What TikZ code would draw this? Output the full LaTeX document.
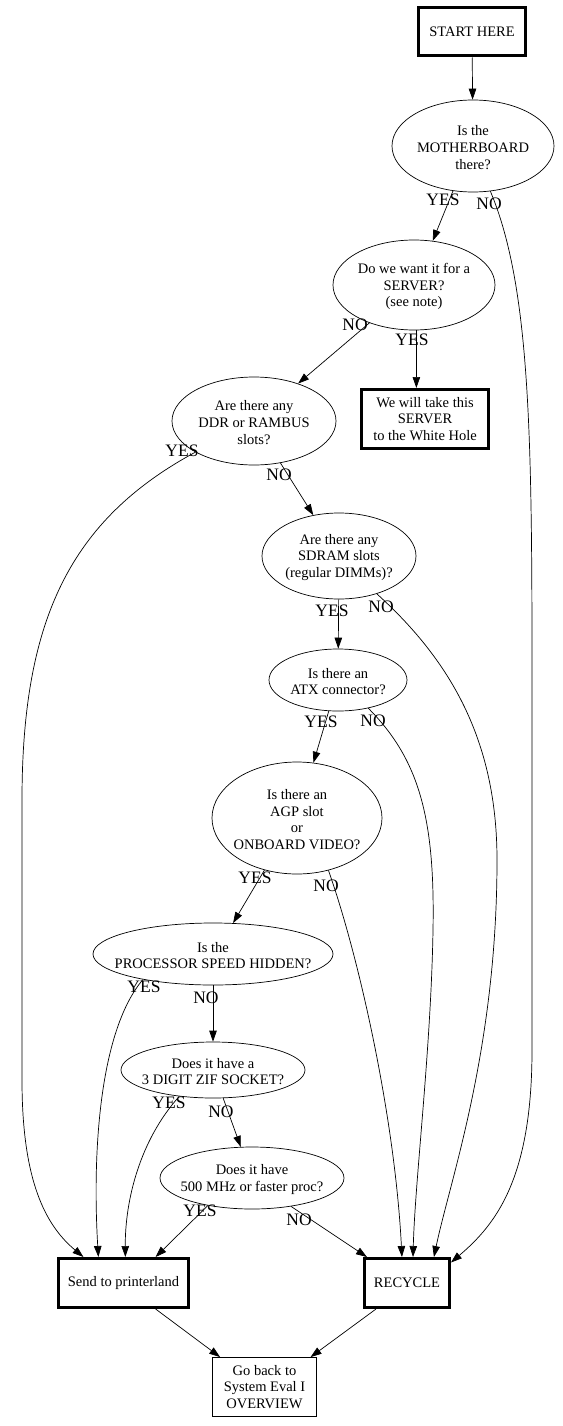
\documentclass[tikz,border=0pt]{standalone}
\usepackage{fontspec}
\setmainfont{Liberation Serif}
\usetikzlibrary{shapes.geometric,arrows.meta}
\begin{document}
\begin{tikzpicture}[x=1pt,y=-1pt,
  qt/.style={inner sep=0pt,align=center,font=\fontsize{14.5}{16.8}\selectfont,yshift=-1.5pt},
  q/.style={ellipse,draw,line width=0.7pt,inner sep=0pt,label={[qt]center:#1}},
  tb/.style={rectangle,draw,line width=3pt,inner sep=0pt,align=center,font=\fontsize{14.5}{16.8}\selectfont},
  thinbox/.style={rectangle,draw,line width=0.8pt,inner sep=0pt,align=center,font=\fontsize{14.5}{16.8}\selectfont},
  e/.style={draw,line width=0.7pt,-{Triangle[length=11pt,width=7.5pt]}},
  lbl/.style={font=\fontsize{17.5}{17.5}\selectfont,inner sep=0pt}]
\useasboundingbox (0,0) rectangle (562,1426);
% nodes
\node[tb,minimum width=107pt,minimum height=48pt] (start) at (472,32) {START HERE};
\node[q={Is the\\MOTHERBOARD\\there?},minimum width=162pt,minimum height=92pt] (mb) at (473,146) {};
\node[q={Do we want it for a\\SERVER?\\(see note)},minimum width=162pt,minimum height=90pt] (server) at (414,285) {};
\node[tb,minimum width=127pt,minimum height=59pt] (wh) at (425,419) {We will take this\\SERVER\\to the White Hole};
\node[q={Are there any\\DDR or RAMBUS\\slots?},minimum width=164pt,minimum height=88pt] (ddr) at (254,421) {};
\node[q={Are there any\\SDRAM slots\\(regular DIMMs)?},minimum width=154pt,minimum height=86pt] (sdram) at (339,556) {};
\node[q={Is there an\\ATX connector?},minimum width=138pt,minimum height=62pt] (atx) at (338,680) {};
\node[q={Is there an\\AGP slot\\or\\ONBOARD VIDEO?},minimum width=170pt,minimum height=112pt] (agp) at (297,818) {};
\node[q={Is the\\PROCESSOR SPEED HIDDEN?},minimum width=240pt,minimum height=62pt] (proc) at (213,954) {};
\node[q={Does it have a\\3 DIGIT ZIF SOCKET?},minimum width=184pt,minimum height=56pt] (zif) at (213,1070) {};
\node[q={Does it have\\500 MHz or faster proc?},minimum width=184pt,minimum height=62pt] (mhz) at (252,1178) {};
\node[tb,minimum width=130pt,minimum height=49pt] (pl) at (123.5,1283) {Send to printerland};
\node[tb,minimum width=85pt,minimum height=49pt] (rec) at (407,1283) {RECYCLE};
\node[thinbox,minimum width=104pt,minimum height=59pt] (back) at (264.5,1387) {Go back to\\System Eval I\\OVERVIEW};
% edges
\draw[e] (start) -- (mb);
\draw[e] (mb.-114) -- (server.67);
\draw[e] (mb.-69) .. controls (532,290) and (532,450) .. (532,700)
  -- (532,1050) .. controls (532,1180) and (495,1225) .. (rec.25);
\draw[e] (server) -- (ddr);
\draw[e] (server.-87) -- (server.-87 |- wh.north);
\draw[e] (ddr.-152) .. controls (70,520) and (22,620) .. (22,800)
  -- (22,1080) .. controls (22,1180) and (45,1225) .. (pl.147);
\draw[e] (ddr) -- (sdram);
\draw[e] (sdram) -- (atx);
\draw[e] (sdram.-45) .. controls (450,660) and (497,740) .. (497,860)
  .. controls (497,1050) and (450,1180) .. (rec.44);
\draw[e] (atx) -- (agp);
\draw[e] (atx.-43) .. controls (420,760) and (435,820) .. (433,930)
  .. controls (431,1050) and (415,1180) .. (rec.77);
\draw[e] (agp.-122) -- (proc.57);
\draw[e] (agp.-59) .. controls (360,960) and (395,1120) .. (rec.101);
\draw[e] (proc.-160) .. controls (100,1030) and (92,1150) .. (pl.134);
\draw[e] (proc) -- (zif);
\draw[e] (zif.-142) .. controls (140,1140) and (125,1200) .. (pl.86);
\draw[e] (zif) -- (mhz);
\draw[e] (mhz.-148) -- (pl.39);
\draw[e] (mhz.-36) -- (rec.147);
\draw[e] (pl.-39) -- (back.146);
\draw[e] (rec.-140) -- (back.33);
% labels
\node[lbl] (l1) at (443,200) {YES};
\node[lbl] (l2) at (489,204) {NO};
\node[lbl] (l3) at (355,325) {NO};
\node[lbl] (l4) at (412,340) {YES};
\node[lbl] (l5) at (182,451) {YES};
\node[lbl] (l6) at (279,475) {NO};
\node[lbl] (l7) at (332,611) {YES};
\node[lbl] (l8) at (381,607) {NO};
\node[lbl] (l9) at (321,722) {YES};
\node[lbl] (l10) at (373,721) {NO};
\node[lbl] (l11) at (255,878) {YES};
\node[lbl] (l12) at (326,886) {NO};
\node[lbl] (l13) at (144,987) {YES};
\node[lbl] (l14) at (206,998) {NO};
\node[lbl] (l15) at (169,1103) {YES};
\node[lbl] (l16) at (221,1112) {NO};
\node[lbl] (l17) at (200,1211) {YES};
\node[lbl] (l18) at (299,1220) {NO};
\end{tikzpicture}
\end{document}
